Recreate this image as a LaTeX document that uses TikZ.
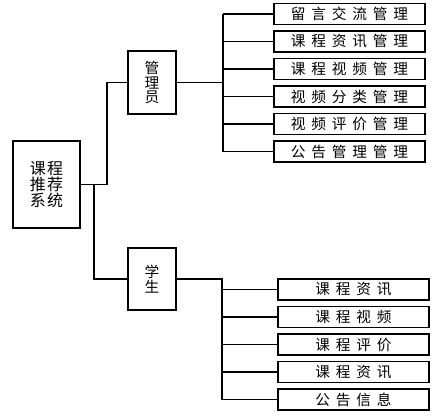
\documentclass[tikz,border=0pt]{standalone}
\usepackage{fontspec}
\newfontfamily\cjk{Noto Sans CJK SC}
\usetikzlibrary{positioning}
\tikzset{
  box/.style={draw, line width=0.8pt, inner sep=0pt, align=center, font=\cjk\fontsize{11}{11}\selectfont},
  leaf/.style={box, minimum width=113.25pt, minimum height=15.75pt,
    font=\cjk\fontsize{11}{11}\selectfont\addfontfeature{LetterSpace=40}},
  link/.style={line width=0.8pt},
}

\begin{document}
\begin{tikzpicture}[x=0.75pt,y=-0.75pt]
\useasboundingbox (0,0) rectangle (445,418);
\node[box, minimum width=50.25pt, minimum height=65.25pt,
  font=\cjk\fontsize{12}{12}\selectfont\addfontfeature{LetterSpace=8}] (root) at (46.5,184.5) {课程\\推荐\\系统};
\node[box, minimum width=36pt, minimum height=47.25pt] (admin) at (152,82.5) {管\\理\\员};
\node[box, minimum width=36pt, minimum height=46.5pt] (student) at (152,279) {学\\生};
\coordinate (ja) at (107,0); \coordinate (js) at (94,0);
\coordinate (jm) at (223,0); \coordinate (jt) at (222,0);
% admin branch
\node[leaf] (a1) at (349.5,14) {留言交流管理};
\node[leaf, below=4.075pt of a1] (a2) {课程资讯管理};
\node[leaf, below=4.075pt of a2] (a3) {课程视频管理};
\node[leaf, below=4.075pt of a3] (a4) {视频分类管理};
\node[leaf, below=4.075pt of a4] (a5) {视频评价管理};
\node[leaf, below=4.075pt of a5] (a6) {公告管理管理};
% student branch
\node[leaf] (s1) at (353.5,289.5) {课程资讯};
\node[leaf, below=4.075pt of s1] (s2) {课程视频};
\node[leaf, below=4.075pt of s2] (s3) {课程评价};
\node[leaf, below=4.075pt of s3] (s4) {课程资讯};
\node[leaf, below=4.075pt of s4] (s5) {公告信息};
\draw[link] (root.east) -- (root.east -| ja) |- (admin.west);
\draw[link] (root.east) -- (root.east -| js) |- (student.west);
\draw[link] (admin.east) -- (admin.east -| jm);
\draw[link] (jm |- a1) -- (jm |- a6);
\foreach \i in {1,...,6} \draw[link] (jm |- a\i) -- (a\i.west);
\draw[link] (student.east) -- (student.east -| jt) -- (jt |- s5);
\foreach \i in {1,...,5} \draw[link] (jt |- s\i) -- (s\i.west);
\end{tikzpicture}
\end{document}
